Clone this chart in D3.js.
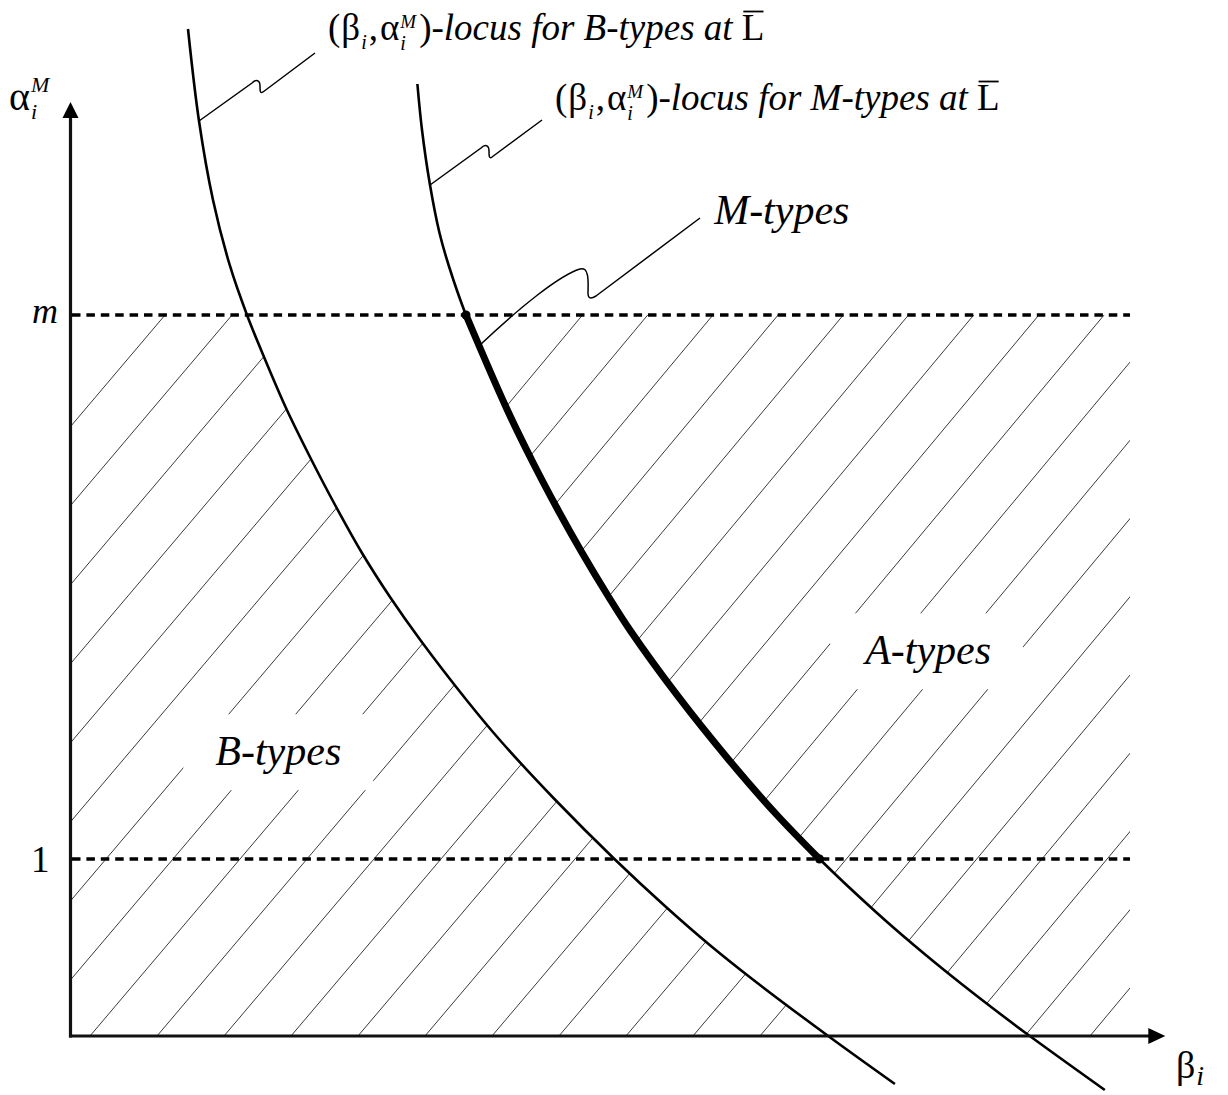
<!DOCTYPE html>
<html><head><meta charset="utf-8">
<script src="https://cdn.jsdelivr.net/npm/d3@7"></script>
<style>body{margin:0;background:#fff} svg{display:block} text{white-space:pre}</style>
</head><body>
<svg id="chart" width="1228" height="1095"></svg>
<script>
// ---------- data (β_i , α_i^M) ----------
const bLocus = [[0.6654,5.6893],[0.7277,5.1695],[0.8070,4.7232],[0.9033,4.3503],[0.9995,4.0734],[1.0958,3.8362],[1.2204,3.5480],[1.3563,3.2712],[1.4922,3.0113],[1.6508,2.7288],[1.8094,2.4802],[1.9810,2.2373],[2.2426,1.8983],[2.4312,1.6723],[2.7460,1.3333],[3.0802,1.0000],[3.3724,0.7288],[3.6199,0.5141],[3.8605,0.3220],[4.2909,0],[4.6686,-0.2712]];
const mLocus = [[1.9645,5.3785],[1.9906,5.1186],[2.0359,4.8079],[2.0897,4.5367],[2.1446,4.3446],[2.2397,4.0734],[2.4686,3.5480],[2.6203,3.2373],[2.7545,2.9831],[2.8978,2.7288],[3.0479,2.4802],[3.1679,2.2938],[3.4432,1.9153],[3.7195,1.5706],[3.9902,1.2599],[4.2417,1.0000],[4.5610,0.7006],[4.7757,0.5141],[4.9965,0.3333],[5.2213,0.1582],[5.4326,0],[5.8573,-0.3051]];
const mLevel = 4.0734;                // α = m
const yTickValues = [1, mLevel];
const yTickLabels = ["1", "m"];
const betaMax = 6;                    // right end of dashed lines / hatching
const axisEnds = [6.2, 5.277];        // arrow tips (β, α)
const locusTypes = ["B", "M"];
const regionLabels = ["B-types", "A-types", "M-types"];
const regionLabelPos = [[0.82, 1.53], [4.50, 2.10], [3.645, 4.59]];
const leaderAnchors = [[0.7277,5.1695],[2.0359,4.8079],[2.319,3.904]];
// hatch families: [base β of bottom intercept, spacing (β), slope (α per β), first k, last k]
const hatchLeft = [0.1104, 0.3794, 1.1772, -8, 11];
const hatchRight = [-0.5029, 0.3692, 1.1972, 0, 17];

// ---------- scales ----------
const xScale = d3.scaleLinear().domain([0, 6]).range([70.5, 1130]);
const yScale = d3.scaleLinear().domain([0, 1]).range([1036, 859]);
const FONT = "Liberation Serif, Times New Roman, serif";

const svg = d3.select("#chart");
const defs = svg.append("defs");
const line = d3.line().x(d => xScale(d[0])).y(d => yScale(d[1])).curve(d3.curveCatmullRom.alpha(0.5));

// clip paths
defs.append("clipPath").attr("id","clipRect").append("rect")
  .attr("x", xScale(0)).attr("y", yScale(mLevel))
  .attr("width", xScale(betaMax)-xScale(0)).attr("height", yScale(0)-yScale(mLevel));
const bFirst = bLocus[0], bLast = bLocus[bLocus.length-1];
defs.append("clipPath").attr("id","clipLeft").append("path")
  .attr("d", line(bLocus) + `L${xScale(-0.1)},${yScale(bLast[1])}L${xScale(-0.1)},${yScale(bFirst[1])}Z`);
const mFirst = mLocus[0], mLast = mLocus[mLocus.length-1];
defs.append("clipPath").attr("id","clipRight").append("path")
  .attr("d", line(mLocus) + `L${xScale(betaMax+0.5)},${yScale(mLast[1])}L${xScale(betaMax+0.5)},${yScale(mFirst[1])}Z`);

function hatch(clipId, fam) {
  const [base, sp, slope, k0, k1] = fam;
  const ks = d3.range(k0, k1 + 1);
  const g = svg.append("g").attr("clip-path","url(#clipRect)")
    .append("g").attr("clip-path", `url(#${clipId})`);
  g.selectAll("line").data(ks).join("line")
    .attr("x1", k => xScale(base + sp*k)).attr("y1", yScale(0))
    .attr("x2", k => xScale(base + sp*k + 6/slope)).attr("y2", yScale(6))
    .attr("stroke", "#3a3a3a").attr("stroke-width", 1);
}
hatch("clipLeft", hatchLeft);
hatch("clipRight", hatchRight);

// region labels with knockout
const labelG = svg.append("g");
regionLabels.forEach((lab, i) => {
  const t = labelG.append("text").attr("x", xScale(regionLabelPos[i][0])).attr("y", yScale(regionLabelPos[i][1]))
    .attr("font-family", FONT).attr("font-style","italic").attr("font-size", 42).attr("fill","#000").text(lab);
  if (i < 2) {
    const bb = t.node().getBBox();
    labelG.insert("rect", "text").attr("x", bb.x - 32).attr("y", bb.y - 14)
      .attr("width", bb.width + 64).attr("height", bb.height + 30).attr("fill", "#fff");
  }
});

// dashed reference lines
svg.selectAll("line.ref").data(yTickValues).join("line").attr("class","ref")
  .attr("x1", xScale(0)+1.5).attr("x2", xScale(betaMax)).attr("y1", d => yScale(d)).attr("y2", d => yScale(d))
  .attr("stroke","#000").attr("stroke-width",3.5).attr("stroke-dasharray","8.5,5.9");

// loci
svg.append("path").attr("d", line(bLocus)).attr("fill","none").attr("stroke","#000").attr("stroke-width",2.6);
svg.append("path").attr("d", line(mLocus)).attr("fill","none").attr("stroke","#000").attr("stroke-width",2.6);
const mSeg = mLocus.filter(d => d[1] <= mLevel + 1e-6 && d[1] >= 1 - 1e-6);
svg.append("path").attr("d", line(mSeg)).attr("fill","none").attr("stroke","#000").attr("stroke-width",7);
svg.selectAll("circle.end").data([mSeg[0], mSeg[mSeg.length-1]]).join("circle").attr("class","end")
  .attr("cx", d => xScale(d[0])).attr("cy", d => yScale(d[1])).attr("r", 4.5).attr("fill","#000");

// axes
const x0 = xScale(0), y0 = yScale(0);
const xTip = xScale(axisEnds[0]), yTip = yScale(axisEnds[1]);
svg.append("line").attr("x1", x0).attr("y1", y0+1.5).attr("x2", x0).attr("y2", yTip+10).attr("stroke","#111").attr("stroke-width",3.2);
svg.append("line").attr("x1", x0-1.5).attr("y1", y0).attr("x2", xTip-10).attr("y2", y0).attr("stroke","#111").attr("stroke-width",3.2);
svg.append("path").attr("d", `M${x0},${yTip}L${x0-8},${yTip+16}L${x0+8},${yTip+16}Z`).attr("fill","#000");
svg.append("path").attr("d", `M${xTip},${y0}L${xTip-17},${y0-8}L${xTip-17},${y0+8}Z`).attr("fill","#000");

// tick labels
svg.selectAll("text.tick").data(yTickValues).join("text").attr("class","tick")
  .attr("x", (d,i) => i === 0 ? 31 : 32).attr("y", (d,i) => yScale(d) + (i === 0 ? 13 : 8))
  .attr("font-family", FONT).attr("font-size", (d,i) => i === 0 ? 37 : 36)
  .attr("font-style", (d,i) => i === 0 ? "normal" : "italic").text((d,i) => yTickLabels[i]);

// math label helper: one <text>, tspans placed absolutely
function mathLabel(x, y, parts) {
  const t = svg.append("text").attr("font-family", FONT).attr("fill", "#000");
  let cx = x, prevStart = x;
  parts.forEach(p => {
    const sx = p.stack ? prevStart : cx;
    const s = t.append("tspan").attr("x", sx).attr("y", y + (p.dy || 0)).attr("font-size", p.size)
      .attr("font-style", p.italic ? "italic" : "normal").text(p.t);
    const w = s.node().getComputedTextLength();
    if (p.bar) {
      svg.append("line").attr("x1", sx + 1.5).attr("x2", sx + w - 1).attr("y1", y - 0.77*p.size).attr("y2", y - 0.77*p.size)
        .attr("stroke","#000").attr("stroke-width",1.8);
    }
    if (p.stack) cx = Math.max(cx, sx + w); else { prevStart = sx; cx = sx + w; }
    cx += (p.gap || 0);
  });
  return cx;
}
function locusParts(kind) {
  return [
    {t:"(", size:37, gap:1},
    {t:"β", size:37, gap:1},
    {t:"i", size:20, italic:true, dy:9, gap:2},
    {t:",", size:37, gap:2},
    {t:"α", size:37, gap:1},
    {t:"M", size:19, italic:true, dy:-12},
    {t:"i", size:20, italic:true, dy:10, stack:true, gap:3},
    {t:")", size:37},
    {t:"-locus for " + kind + "-types at ", size:37, italic:true},
    {t:"L", size:37, bar:true}
  ];
}
mathLabel(328, 40, locusParts(locusTypes[0]));
mathLabel(555, 110, locusParts(locusTypes[1]));

// axis titles
mathLabel(9, 110, [{t:"α", size:40, gap:1},{t:"M", size:22, italic:true, dy:-18},{t:"i", size:22, italic:true, dy:9, stack:true}]);
mathLabel(1176, 1078, [{t:"β", size:38, gap:1},{t:"i", size:28, italic:true, dy:7}]);

// leader squiggles (relative to anchor on curve)
const leaderShapes = [
  "M0,0 L53,-38 C57,-42 61,-41 61,-35 C61,-30 61,-27 64,-29 L116,-68",
  "M0,0 L51,-37 C55,-41 59,-40 59,-34 C59,-29 59,-26 62,-28 L112,-65",
  "M0,0 C40,-38 80,-70 100,-76 C110,-79 108,-60 108,-52 C108,-46 111,-46 116,-49 L220,-127"
];
leaderAnchors.forEach((a, i) => {
  svg.append("path").attr("transform", `translate(${xScale(a[0])},${yScale(a[1])})`)
    .attr("d", leaderShapes[i]).attr("fill","none").attr("stroke","#000").attr("stroke-width",1.5);
});
</script>
</body></html>
